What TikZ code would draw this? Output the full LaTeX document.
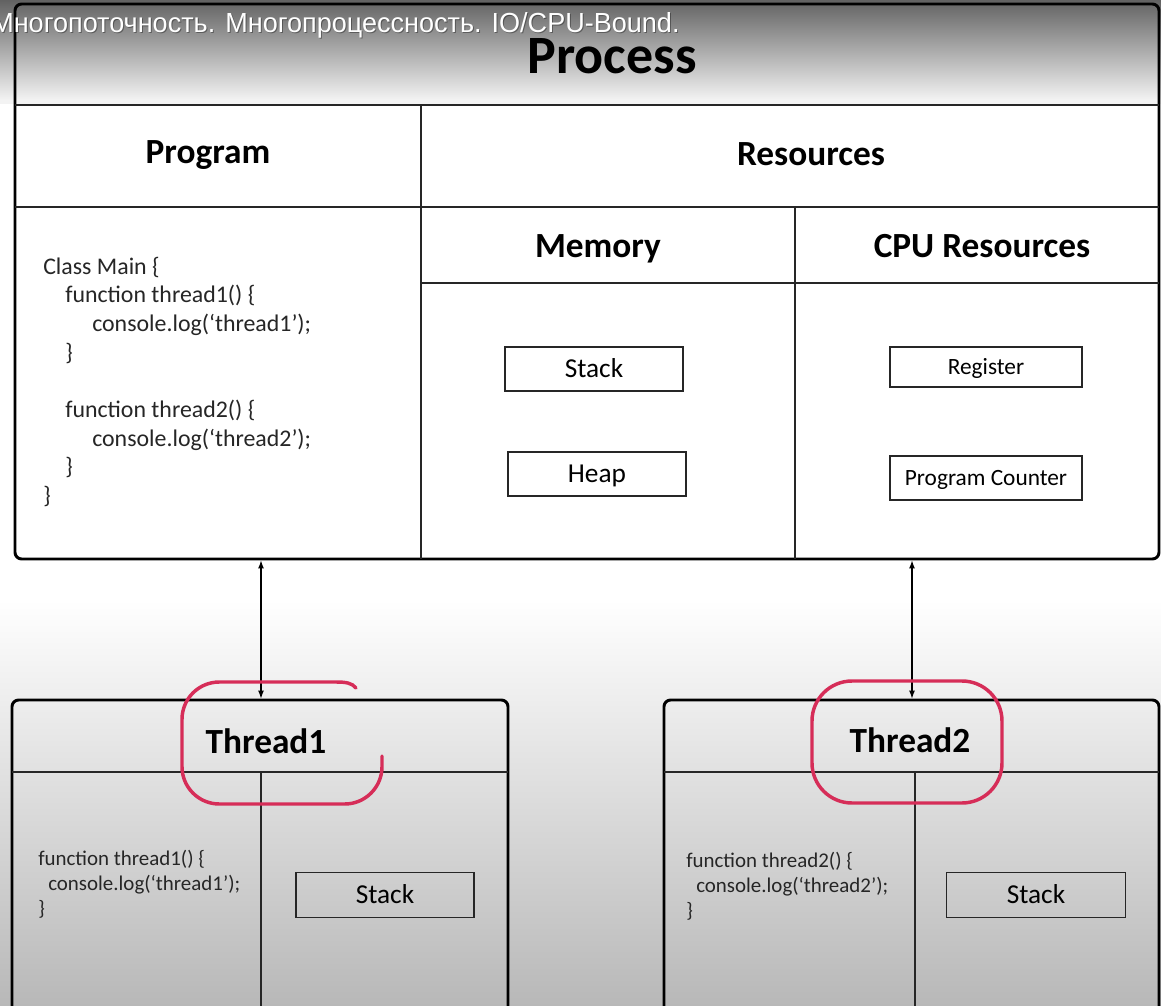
\documentclass[tikz,border=0pt]{standalone}
\usepackage{fontspec}
\setmainfont{Carlito}
\newfontfamily\ovlfont{Liberation Sans}
\usetikzlibrary{arrows.meta,fit}
\definecolor{hlred}{RGB}{214,45,88}
\definecolor{topgray}{RGB}{98,98,98}
\definecolor{topend}{RGB}{243,243,243}
\definecolor{botgray}{RGB}{184,184,184}
\begin{document}
\begin{tikzpicture}[x=0.75pt,y=-0.75pt,
  outerbox/.style={draw=black, line width=2.2pt, rounded corners=5pt, inner sep=0pt},
  divh/.style={line width=1.5pt, draw=black!85},
  divv/.style={line width=1.1pt, draw=black!85},
  hdr/.style={font=\bfseries\fontsize{26.5pt}{30pt}\selectfont, inner sep=0pt},
  bigt/.style={font=\bfseries\fontsize{40.5pt}{44pt}\selectfont, inner sep=0pt},
  sbox/.style={draw=black!85, line width=1.3pt, inner sep=0pt, fill=none},
  memtxt/.style={font=\fontsize{20.5pt}{24pt}\selectfont, text height=13.2pt, text depth=0pt},
  cputxt/.style={font=\fontsize{17.5pt}{21pt}\selectfont, text height=11.3pt, text depth=0pt},
  codeA/.style={anchor=base west, inner sep=0pt, text=black!85, font=\fontsize{17.9pt}{21pt}\selectfont},
  codeB/.style={anchor=base west, inner sep=0pt, text=black!85, font=\fontsize{15.7pt}{19pt}\selectfont},
  link/.style={line width=0.8pt, {Latex[length=6pt,width=4.5pt]}-{Latex[length=6pt,width=4.5pt]}},
  hl/.style={draw=hlred, line width=2.6pt, line cap=round},
  ovlstyle/.style={anchor=base west, inner sep=0pt, font=\ovlfont\fontsize{20.7pt}{24pt}\selectfont}
]
\useasboundingbox (0,0) rectangle (1161,1006);
% background
\fill[white] (0,0) rectangle (1161,1006);
\shade[top color=topgray, bottom color=topend] (0,0) rectangle (1161,100);
\fill[topend] (0,100) rectangle (1161,104);
\shade[top color=white, bottom color=botgray] (0,600) rectangle (1161,1006);

% Process box
\coordinate (pTL) at (15,4);
\coordinate (pBR) at (1159,559);
\node[outerbox, fit=(pTL)(pBR)] (proc) {};
\draw[divh] (15,105) -- (1159,105);
\draw[divv] (421,105) -- (421,559);
\draw[divh] (15,207) -- (1159,207);
\draw[divv] (795,207) -- (795,559);
\draw[divh] (421,283) -- (1159,283);

\node[bigt] (ptitle) at (612,56) {Process};
\node[hdr] (prog) at (208,155) {Program};
\node[hdr] (res) at (811,154) {Resources};
\node[hdr] (mem) at (598,249) {Memory};
\node[hdr] (cpu) at (982,246) {CPU Resources};

% code block
\node[codeA] (c1) at (43,274) {Class Main \{};
\node[codeA] (c2) at (65,302.7) {function thread1() \{};
\node[codeA] (c3) at (92,331.4) {console.log(‘thread1’);};
\node[codeA] (c4) at (65,360.1) {\}};
\node[codeA] (c5) at (65,417.5) {function thread2() \{};
\node[codeA] (c6) at (92,446.2) {console.log(‘thread2’);};
\node[codeA] (c7) at (65,474.9) {\}};
\node[codeA] (c8) at (43,503.6) {\}};

% memory / cpu boxes
\node[sbox, memtxt, minimum width=133.5pt, minimum height=33pt] (stk) at (594,369) {Stack};
\node[sbox, memtxt, minimum width=133.5pt, minimum height=33pt] (heap) at (597,474) {Heap};
\node[sbox, cputxt, minimum width=144pt, minimum height=30pt] (reg) at (986,367) {Register};
\node[sbox, cputxt, minimum width=144pt, minimum height=33pt] (pc) at (986,478) {Program Counter};

% Thread boxes
\coordinate (t1TL) at (12,700);
\coordinate (t1BR) at (508,1040);
\node[outerbox, fit=(t1TL)(t1BR)] (th1) {};
\coordinate (t2TL) at (664,700);
\coordinate (t2BR) at (1159,1040);
\node[outerbox, fit=(t2TL)(t2BR)] (th2) {};
\draw[divh] (12,772) -- (508,772);
\draw[divv] (261,772) -- (261,1040);
\draw[divh] (664,772) -- (1159,772);
\draw[divv] (915,772) -- (915,1040);

\node[hdr] (t1name) at (266,741) {Thread1};
\node[hdr] (t2name) at (910,740) {Thread2};

\node[codeB] (d1) at (38,865) {function thread1() \{};
\node[codeB] (d2) at (48,890) {console.log(‘thread1’);};
\node[codeB] (d3) at (38,915) {\}};
\node[codeB] (e1) at (686,867) {function thread2() \{};
\node[codeB] (e2) at (696,892) {console.log(‘thread2’);};
\node[codeB] (e3) at (686,917) {\}};

\node[sbox, memtxt, minimum width=133.5pt, minimum height=33.75pt] (tst1) at (385,895) {Stack};
\node[sbox, memtxt, minimum width=134.25pt, minimum height=33.75pt] (tst2) at (1036,895) {Stack};

% connectors
\coordinate (ax1) at (261,0);
\coordinate (ax2) at (912,0);
\draw[link] (proc.south -| ax1) -- (th1.north -| ax1);
\draw[link] (proc.south -| ax2) -- (th2.north -| ax2);

% red highlights
\draw[hl] (356,688) .. controls (352,683) and (346,682) .. (336,682)
  [rounded corners=28pt] -- (182,682) -- (182,804) -- (382,804) -- (382,756);
\draw[hl, rounded corners=30pt] (812,681) rectangle (1002,803);

% video title overlay
\node[ovlstyle, text=black, opacity=0.35] (ovlsh) at (-8,34) {\scalebox{0.98}[1]{Многопоточность. Многопроцессность. IO/CPU-Bound.}};
\node[ovlstyle, text=white] (ovl) at (-9,33) {\scalebox{0.98}[1]{Многопоточность. Многопроцессность. IO/CPU-Bound.}};
\end{tikzpicture}
\end{document}
